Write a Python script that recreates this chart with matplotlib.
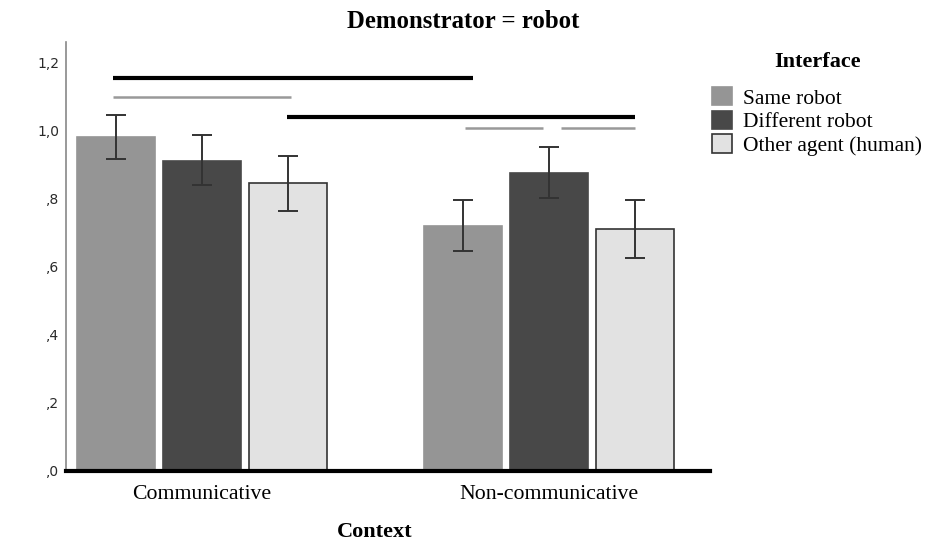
import numpy as np
import matplotlib.pyplot as plt

contexts = ["Communicative", "Non-communicative"]
interfaces = ["Same robot", "Different robot", "Other agent (human)"]
means = {
    "Same robot": [0.982, 0.721],
    "Different robot": [0.912, 0.876],
    "Other agent (human)": [0.847, 0.712],
}
ci_low = {
    "Same robot": [0.918, 0.647],
    "Different robot": [0.841, 0.803],
    "Other agent (human)": [0.765, 0.626],
}
ci_high = {
    "Same robot": [1.047, 0.797],
    "Different robot": [0.988, 0.953],
    "Other agent (human)": [0.926, 0.797],
}
yticks = [0.0, 0.2, 0.4, 0.6, 0.8, 1.0, 1.2]
ytick_labels = [",0", ",2", ",4", ",6", ",8", "1,0", "1,2"]

# significance lines: (x start, x end, y, colour)
sig_lines = [
    (-0.256, 0.781, 1.156, "black"),
    (-0.256, 0.256, 1.100, "#999999"),
    (0.245, 1.248, 1.040, "black"),
    (0.758, 0.983, 1.008, "#999999"),
    (1.035, 1.248, 1.008, "#999999"),
]

colors = {"Same robot": "#959595", "Different robot": "#484848",
          "Other agent (human)": "#e2e2e2"}
edges = {"Same robot": "#959595", "Different robot": "#484848",
         "Other agent (human)": "#333333"}

serif = "Liberation Serif"

fig = plt.figure(figsize=(9.33, 5.41), dpi=100)
ax = fig.add_axes([0.0707, 0.1294, 0.6903, 0.7926])

x = np.arange(len(contexts))
step = 0.248
width = 0.225
for i, name in enumerate(interfaces):
    pos = x + (i - 1) * step
    m = np.array(means[name])
    lo = m - np.array(ci_low[name])
    hi = np.array(ci_high[name]) - m
    ax.bar(pos, m, width, color=colors[name], edgecolor=edges[name],
           linewidth=1.2, label=name, zorder=2)
    ax.errorbar(pos, m, yerr=[lo, hi], fmt="none", ecolor="#333333",
                elinewidth=1.4, capsize=7.5, capthick=1.4, zorder=3)

for x0, x1, y, c in sig_lines:
    ax.plot([x0, x1], [y, y], color=c, lw=3 if c == "black" else 1.8,
            solid_capstyle="butt", zorder=4)

ax.set_xlim(-0.392, 1.464)
ax.set_ylim(0, 1.26)
ax.set_yticks(yticks)
ax.set_yticklabels(ytick_labels, fontsize=10, color="#2a2a2a")
ax.tick_params(axis="y", length=0, pad=5)
ax.set_xticks(x)
ax.set_xticklabels(contexts, family=serif, fontsize=15.7)
ax.tick_params(axis="x", length=0, pad=10)

for s in ["top", "right"]:
    ax.spines[s].set_visible(False)
ax.spines["left"].set_color("#888888")
ax.spines["left"].set_linewidth(1.2)
ax.spines["bottom"].set_color("black")
ax.spines["bottom"].set_linewidth(3)

fig.text(463 / 933, 1 - 22 / 541, "Demonstrator = robot", ha="center",
         va="center", family=serif, fontsize=17.8, weight="bold")
fig.text(375 / 933, 1 - 532 / 541, "Context", ha="center", va="center",
         family=serif, fontsize=16, weight="bold")
fig.text(818 / 933, 1 - 62 / 541, "Interface", ha="center", va="center",
         family=serif, fontsize=16, weight="bold")

leg = ax.legend(loc="upper left", bbox_to_anchor=(712 / 933, 1 - 87 / 541),
                bbox_transform=fig.transFigure, frameon=False,
                prop={"family": serif, "size": 15.5},
                handlelength=0.93, handleheight=0.93, handletextpad=0.5,
                labelspacing=0.1, borderpad=0, borderaxespad=0)

fig.savefig("out.png", dpi=100)
